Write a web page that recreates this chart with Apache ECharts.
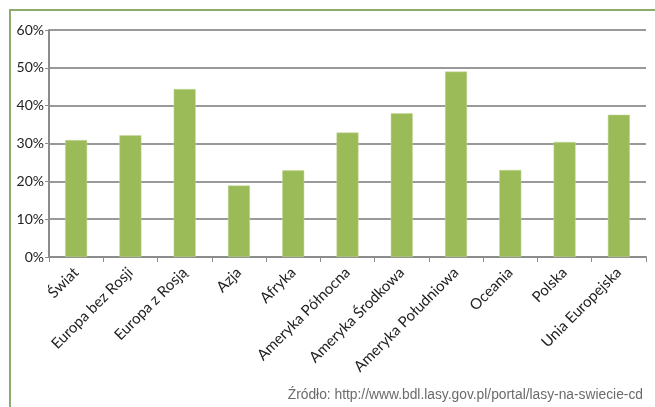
<!DOCTYPE html>
<html>
<head>
<meta charset="utf-8">
<script src="https://cdn.jsdelivr.net/npm/echarts@6/dist/echarts.min.js"></script>
<style>
  html, body { margin: 0; padding: 0; background: #fff; }
  #frame {
    position: absolute; left: 9px; top: 9px; width: 646px; height: 398px;
    border-top: 2px solid #8cab6c; border-left: 2px solid #8cab6c;
  }
  #chart { position: absolute; left: 0; top: 0; width: 655px; height: 407px; }
</style>
</head>
<body>
<div id="frame"></div>
<div id="chart"></div>
<script>
const categories = ['Świat', 'Europa bez Rosji', 'Europa z Rosją', 'Azja', 'Afryka',
    'Ameryka Północna', 'Ameryka Środkowa', 'Ameryka Południowa', 'Oceania', 'Polska', 'Unia Europejska'];
const values = [30.9, 32.2, 44.4, 18.9, 22.9, 32.9, 38.0, 49.0, 23.0, 30.4, 37.6];
const source = 'Źródło: http://www.bdl.lasy.gov.pl/portal/lasy-na-swiecie-cd';

const chart = echarts.init(document.getElementById('chart'));

chart.setOption({
    animation: false,
    textStyle: { fontFamily: 'Lato' },
    grid: { left: 49, top: 30, right: 9, bottom: 150, containLabel: false },
    graphic: [{
        type: 'text',
        right: 12,
        top: 388,
        style: {
            text: source,
            fill: '#6b6b6b',
            font: '13.8px "Liberation Sans", Arial, sans-serif'
        }
    }],
    xAxis: {
        type: 'category',
        data: categories,
        axisLine: { lineStyle: { color: '#8c8c8c', width: 2 } },
        axisTick: { show: true, length: 5, lineStyle: { color: '#8c8c8c', width: 1 } },
        axisLabel: {
            rotate: 45,
            interval: 0,
            margin: 13,
            color: '#222',
            fontSize: 15,
            fontFamily: 'Lato'
        }
    },
    yAxis: {
        type: 'value',
        min: 0,
        max: 60,
        interval: 10,
        axisLine: { show: true, lineStyle: { color: '#8c8c8c', width: 2 } },
        axisTick: { show: true, length: 4, lineStyle: { color: '#8c8c8c' } },
        splitLine: { lineStyle: { color: '#999', width: 2 } },
        axisLabel: {
            formatter: '{value}%',
            margin: 5,
            color: '#222',
            fontSize: 14,
            fontFamily: 'Lato'
        }
    },
    series: [{
        type: 'bar',
        data: values,
        barWidth: 22,
        itemStyle: { color: '#9bbb59', borderColor: '#c4d89a', borderWidth: 0.5 }
    }]
});
</script>
</body>
</html>
